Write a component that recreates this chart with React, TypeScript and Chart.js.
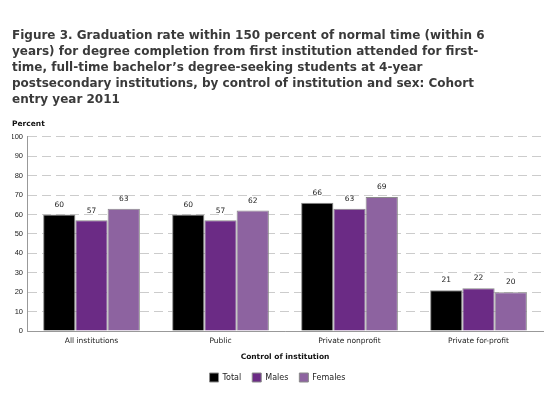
import React, { useEffect, useRef } from "react";
import { Chart, registerables } from "chart.js";

Chart.register(...registerables);

const categories = ["All institutions", "Public", "Private nonprofit", "Private for-profit"];
const totalValues = [60, 60, 66, 21];
const maleValues = [57, 57, 63, 22];
const femaleValues = [63, 62, 69, 20];
const seriesNames = ["Total", "Males", "Females"];
const titleLines = [
  "Figure 3. Graduation rate within 150 percent of normal time (within 6",
  "years) for degree completion from first institution attended for first-",
  "time, full-time bachelor\u2019s degree-seeking students at 4-year",
  "postsecondary institutions, by control of institution and sex: Cohort",
  "entry year 2011",
];
const yTitle = "Percent";
const xTitle = "Control of institution";

const FONT = "'DejaVu Sans', sans-serif";
const TICKFONT = "'Liberation Sans', Arial, sans-serif";

const valueLabels = {
  id: "valueLabels",
  afterDatasetsDraw(chart: any) {
    const ctx = chart.ctx;
    ctx.save();
    ctx.font = `7.5px ${FONT}`;
    ctx.fillStyle = "#222";
    ctx.textAlign = "center";
    ctx.textBaseline = "bottom";
    chart.data.datasets.forEach((ds: any, i: number) => {
      const meta = chart.getDatasetMeta(i);
      meta.data.forEach((bar: any, j: number) => {
        ctx.fillText(String(ds.data[j]), bar.x, bar.y - 6);
      });
    });
    ctx.restore();
  },
};

export default function App() {
  const ref = useRef<HTMLCanvasElement>(null);
  useEffect(() => {
    document.body.style.margin = "0";
    const chart = new Chart(ref.current!, {
      type: "bar",
      data: {
        labels: categories,
        datasets: [
          { label: seriesNames[0], data: totalValues, backgroundColor: "#000000", borderColor: "#8a8a8a", borderWidth: 1 },
          { label: seriesNames[1], data: maleValues, backgroundColor: "#6b2b85", borderColor: "#8a8a8a", borderWidth: 1 },
          { label: seriesNames[2], data: femaleValues, backgroundColor: "#8d63a0", borderColor: "#8a8a8a", borderWidth: 1 },
        ],
      },
      options: {
        animation: false,
        responsive: false,
        maintainAspectRatio: false,
        layout: { padding: { left: 12, right: 9, top: 28, bottom: 6 } },
        datasets: { bar: { categoryPercentage: 0.75, barPercentage: 1 } },
        plugins: {
          title: {
            display: true,
            text: titleLines,
            align: "start",
            color: "#3a3a3a",
            font: { family: FONT, size: 12, weight: "bold", lineHeight: 1.33 },
            padding: { top: 0, bottom: 12 },
          },
          subtitle: {
            display: true,
            text: yTitle,
            align: "start",
            color: "#111",
            font: { family: FONT, size: 7.5, weight: "bold" },
            padding: { top: 0, bottom: 8 },
          },
          legend: {
            position: "bottom",
            labels: {
              boxWidth: 9,
              boxHeight: 9,
              color: "#222",
              font: { family: FONT, size: 8 },
              padding: 11,
            },
          },
          tooltip: { enabled: false },
        },
        scales: {
          x: {
            grid: { display: false, drawTicks: false },
            border: { color: "#999" },
            ticks: { color: "#222", font: { family: FONT, size: 7.5 }, padding: 6 },
            title: {
              display: true,
              text: xTitle,
              color: "#111",
              font: { family: FONT, size: 7.5, weight: "bold" },
              padding: { top: 1, bottom: 0 },
            },
          },
          y: {
            min: 0,
            max: 100,
            afterFit: (scale: any) => {
              scale.width = 15;
            },
            ticks: { stepSize: 10, color: "#222", font: { family: TICKFONT, size: 7.5 }, padding: 4 },
            grid: { color: "#cccccc", drawTicks: false },
            border: { color: "#999", dash: [9, 5] },
          },
        },
      },
      plugins: [valueLabels],
    } as any);
    return () => chart.destroy();
  }, []);
  return (
    <div style={{ position: "relative", width: 552, height: 398 }}>
      <canvas ref={ref} width={552} height={398} />
    </div>
  );
}
